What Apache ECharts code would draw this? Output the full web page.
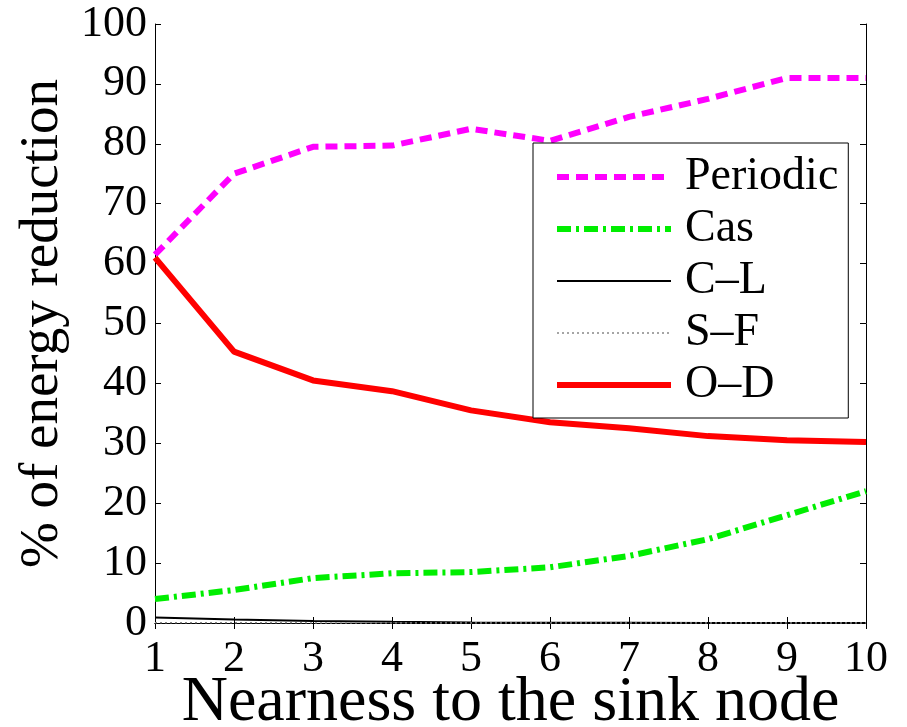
<!DOCTYPE html>
<html>
<head>
<meta charset="utf-8">
<script src="https://cdn.jsdelivr.net/npm/echarts@6/dist/echarts.min.js"></script>
<style>
  html, body { margin: 0; padding: 0; background: #fff; }
  #main { width: 907px; height: 727px; }
</style>
</head>
<body>
<div id="main"></div>
<script>
// data
var nearness = [1, 2, 3, 4, 5, 6, 7, 8, 9, 10];
var periodic = [61.5, 75, 79.5, 79.7, 82.5, 80.5, 84.5, 87.5, 91, 91];
var cas = [4, 5.5, 7.5, 8.3, 8.5, 9.3, 11.2, 14, 18, 22];
var cl = [0.9, 0.6, 0.35, 0.2, 0.1, 0.05, 0.03, 0.02, 0.01, 0.01];
var sf = [0.05, 0.03, 0.02, 0.01, 0, 0, 0, 0, 0, 0];
var od = [61, 45.3, 40.5, 38.7, 35.5, 33.5, 32.5, 31.2, 30.5, 30.2];

function pairs(ys) {
  return nearness.map(function (x, i) { return [x, ys[i]]; });
}

var font = 'Liberation Serif';
var chart = echarts.init(document.getElementById('main'));

var styles = {
  'Periodic': { color: '#ff00ff', width: 6, type: [12, 7] },
  'Cas': { color: '#00ee00', width: 6, type: [14, 5, 3, 5] },
  'C\u2013L': { color: '#000', width: 2, type: 'solid' },
  'S\u2013F': { color: '#888', width: 1.5, type: [2, 3] },
  'O\u2013D': { color: '#ff0000', width: 6, type: 'solid' }
};
var names = ['Periodic', 'Cas', 'C\u2013L', 'S\u2013F', 'O\u2013D'];
var values = [periodic, cas, cl, sf, od];

var option = {
  backgroundColor: '#fff',
  animation: false,
  grid: { left: 155, right: 41, top: 24, bottom: 104, containLabel: false, outerBoundsMode: 'none' },
  legend: {
    orient: 'vertical',
    left: 533,
    top: 143,
    padding: [8, 10, 7, 21],
    itemGap: 0,
    itemWidth: 114,
    itemHeight: 20,
    borderColor: '#000',
    borderWidth: 1,
    backgroundColor: '#fff',
    itemStyle: { opacity: 0 },
    textStyle: { fontFamily: font, fontSize: 46, color: '#000', lineHeight: 52, padding: [0, 0, 0, 9] },
    data: names.map(function (n) {
      return { name: n, lineStyle: styles[n], itemStyle: { opacity: 0 } };
    })
  },
  xAxis: [{
    type: 'value',
    min: 1, max: 10, interval: 1,
    name: 'Nearness to the sink node',
    nameLocation: 'middle',
    nameGap: 48,
    nameMoveOverlap: false,
    nameTextStyle: { fontFamily: font, fontSize: 64, color: '#000' },
    axisLine: { lineStyle: { color: '#000', width: 1 } },
    axisTick: { inside: true, length: 6, lineStyle: { color: '#000' } },
    axisLabel: { fontFamily: font, fontSize: 44, color: '#000', margin: 14 },
    splitLine: { show: false }
  }, {
    type: 'value', position: 'top',
    min: 1, max: 10, interval: 1,
    axisLine: { lineStyle: { color: '#000', width: 1 } },
    axisTick: { inside: true, length: 6, lineStyle: { color: '#000' } },
    axisLabel: { show: false },
    splitLine: { show: false }
  }],
  yAxis: [{
    type: 'value',
    min: 0, max: 100, interval: 10,
    name: '% of energy reduction',
    nameLocation: 'middle',
    nameGap: 85,
    nameMoveOverlap: false,
    nameTextStyle: { fontFamily: font, fontSize: 55, color: '#000' },
    axisLine: { show: true, lineStyle: { color: '#000', width: 1 } },
    axisTick: { show: true, inside: true, length: 6, lineStyle: { color: '#000' } },
    axisLabel: { fontFamily: font, fontSize: 44, color: '#000', margin: 8 },
    splitLine: { show: false }
  }, {
    type: 'value', position: 'right',
    min: 0, max: 100, interval: 10,
    axisLine: { show: true, lineStyle: { color: '#000', width: 1 } },
    axisTick: { show: true, inside: true, length: 6, lineStyle: { color: '#000' } },
    axisLabel: { show: false },
    splitLine: { show: false }
  }],
  series: names.map(function (n, i) {
    return {
      name: n, type: 'line', symbol: 'none', data: pairs(values[i]),
      lineStyle: styles[n],
      itemStyle: { color: styles[n].color },
      z: (n === 'C\u2013L' || n === 'S\u2013F') ? 4 : 3
    };
  })
};

chart.setOption(option);
</script>
</body>
</html>
